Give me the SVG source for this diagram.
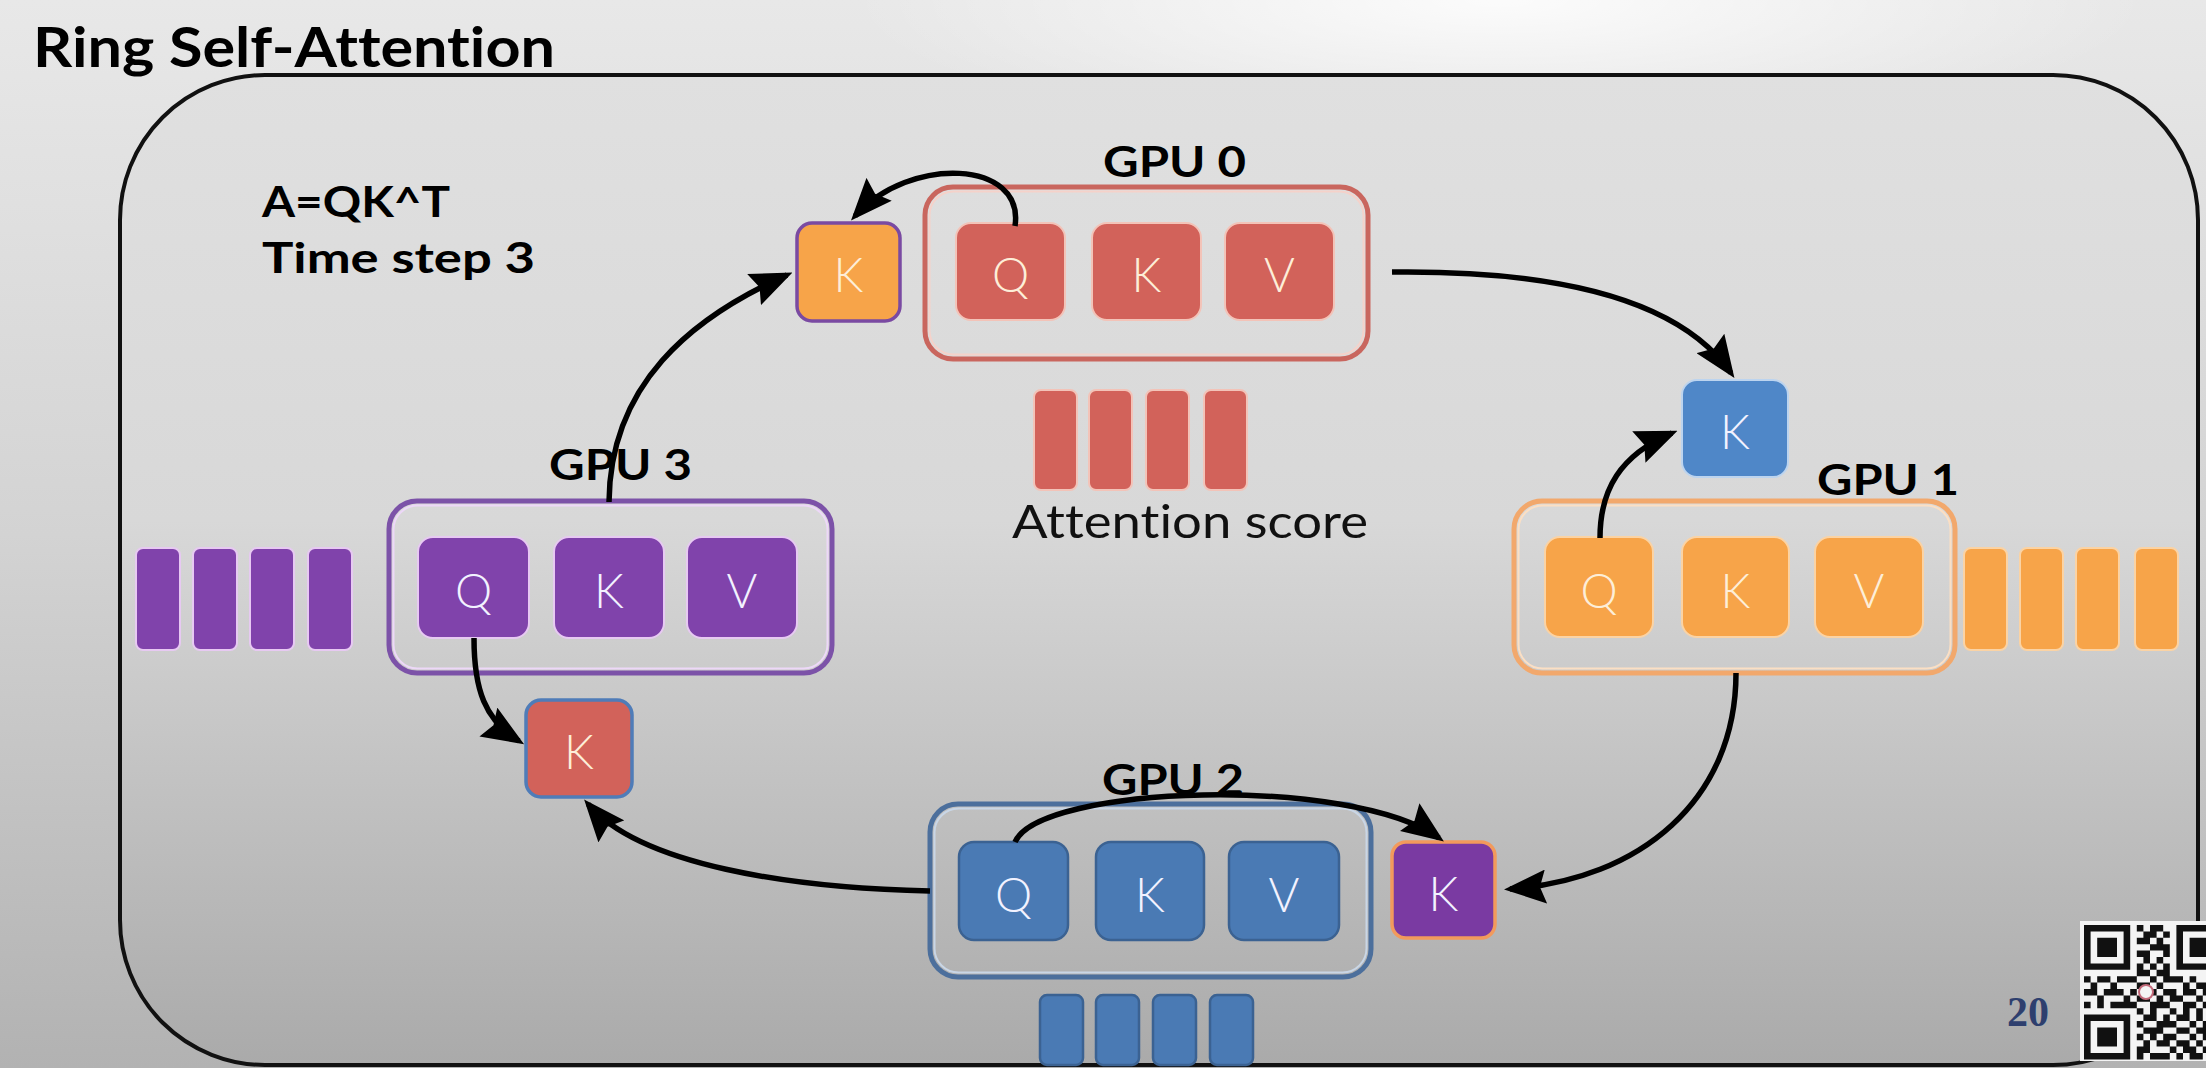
<svg xmlns="http://www.w3.org/2000/svg" width="2206" height="1068" viewBox="0 0 2206 1068">
<defs>
  <linearGradient id="bg" x1="0" y1="0" x2="0" y2="1">
    <stop offset="0" stop-color="#e8e8e8"/>
    <stop offset="0.5" stop-color="#d3d3d3"/>
    <stop offset="1" stop-color="#b2b2b2"/>
  </linearGradient>
  <radialGradient id="glow" cx="0.5" cy="0.5" r="0.5">
    <stop offset="0" stop-color="#ffffff" stop-opacity="0.85"/>
    <stop offset="1" stop-color="#ffffff" stop-opacity="0"/>
  </radialGradient>
  <linearGradient id="panel" x1="0" y1="0" x2="0" y2="1">
    <stop offset="0" stop-color="#e0e0e0"/>
    <stop offset="0.45" stop-color="#d8d8d8"/>
    <stop offset="1" stop-color="#aaaaaa"/>
  </linearGradient>
  <marker id="arr" viewBox="0 0 42 34" refX="36" refY="17" markerWidth="42" markerHeight="34" markerUnits="userSpaceOnUse" orient="auto">
    <path d="M0,0 L42,17 L0,34 L6,17 z" fill="#000"/>
  </marker>
</defs>
<style>
  text{font-variant-ligatures:none}
  .title{font-family:Lato,'Liberation Sans',sans-serif;font-weight:bold;font-size:56px;fill:#000}
  .note{font-family:Lato,'Liberation Sans',sans-serif;font-weight:bold;font-size:42px;fill:#000}
  .lbl{font-family:Lato,'Liberation Sans',sans-serif;font-weight:bold;font-size:42px;fill:#000}
  .ch{font-family:Lato,'Liberation Sans',sans-serif;font-weight:300;font-size:47px;text-anchor:middle}
  .att{font-family:Lato,'Liberation Sans',sans-serif;font-weight:normal;font-size:46px;fill:#111}
  .conn{fill:none;stroke:#000;stroke-width:5.5;marker-end:url(#arr)}
  .red{fill:#d2625a;stroke:#f3c3b8;stroke-width:2}
  .org{fill:#f7a449;stroke:#fbd3a4;stroke-width:2}
  .pur{fill:#8043ab;stroke:#e7c9f2;stroke-width:2}
  .blu{fill:#4a7ab4;stroke:#3b6292;stroke-width:2.5}
  .tr{fill:#fdeed8}
  .tb{fill:#f2f2ff}
  .cont{fill:none;stroke-width:5}
  .inner{fill:none;stroke-width:2}
</style>

<rect x="0" y="0" width="2206" height="1068" fill="url(#bg)"/>
<ellipse cx="1500" cy="0" rx="650" ry="140" fill="url(#glow)"/>

<rect id="frame" x="120" y="75" width="2078" height="990" rx="145" ry="145" fill="url(#panel)" stroke="#111" stroke-width="4"/>

<text class="title" x="33" y="67" textLength="522" lengthAdjust="spacingAndGlyphs">Ring Self-Attention</text>
<text class="note" x="262" y="217" textLength="188" lengthAdjust="spacingAndGlyphs">A=QK^T</text>
<text class="note" x="262" y="273" textLength="273" lengthAdjust="spacingAndGlyphs">Time step 3</text>

<!-- GPU 0 -->
<g id="gpu0">
  <text class="lbl" x="1103" y="177" textLength="143" lengthAdjust="spacingAndGlyphs">GPU 0</text>
  <rect class="cont" x="925" y="187" width="443" height="172" rx="28" stroke="#c9665e"/>
  <rect class="inner" x="929.5" y="191.5" width="434" height="163" rx="24" stroke="#f5d2ca"/>
  <rect class="red" x="956" y="223" width="109" height="97" rx="15"/>
  <text class="ch tr" x="1010.5" y="292">Q</text>
  <rect class="red" x="1092" y="223" width="109" height="97" rx="15"/>
  <text class="ch tr" x="1146.5" y="292">K</text>
  <rect class="red" x="1225" y="223" width="109" height="97" rx="15"/>
  <text class="ch tr" x="1279.5" y="292">V</text>
</g>
<g id="gpu0-scores">
  <rect class="red" x="1034" y="390" width="43" height="100" rx="7"/>
  <rect class="red" x="1089" y="390" width="43" height="100" rx="7"/>
  <rect class="red" x="1146" y="390" width="43" height="100" rx="7"/>
  <rect class="red" x="1204" y="390" width="43" height="100" rx="7"/>
  <text class="att" x="1012" y="538" textLength="356" lengthAdjust="spacingAndGlyphs">Attention score</text>
</g>
<g id="gpu0-recv">
  <rect x="797" y="223" width="103" height="98" rx="15" fill="#f7a449" stroke="#7a4aa2" stroke-width="3.5"/>
  <text class="ch tr" x="848.5" y="292">K</text>
</g>

<!-- GPU 1 -->
<g id="gpu1">
  <text class="lbl" x="1817" y="495" textLength="142" lengthAdjust="spacingAndGlyphs">GPU 1</text>
  <rect class="cont" x="1514" y="501" width="441" height="172" rx="28" stroke="#f2a86c"/>
  <rect class="inner" x="1518.5" y="505.5" width="432" height="163" rx="24" stroke="#fbdfc4"/>
  <rect class="org" x="1545" y="537" width="108" height="100" rx="15"/>
  <text class="ch tr" x="1599" y="608">Q</text>
  <rect class="org" x="1682" y="537" width="107" height="100" rx="15"/>
  <text class="ch tr" x="1735.5" y="608">K</text>
  <rect class="org" x="1815" y="537" width="108" height="100" rx="15"/>
  <text class="ch tr" x="1869" y="608">V</text>
</g>
<g id="gpu1-scores">
  <rect class="org" x="1964" y="548" width="43" height="102" rx="7"/>
  <rect class="org" x="2020" y="548" width="43" height="102" rx="7"/>
  <rect class="org" x="2076" y="548" width="43" height="102" rx="7"/>
  <rect class="org" x="2135" y="548" width="43" height="102" rx="7"/>
</g>
<g id="gpu1-recv">
  <rect x="1682" y="380" width="106" height="97" rx="15" fill="#4f87c8" stroke="#bcd4ef" stroke-width="2"/>
  <text class="ch tb" x="1735" y="449">K</text>
</g>

<!-- GPU 2 -->
<g id="gpu2">
  <text class="lbl" x="1102" y="795" textLength="142" lengthAdjust="spacingAndGlyphs">GPU 2</text>
  <rect class="cont" x="930" y="804" width="441" height="173" rx="28" stroke="#4c6f9c"/>
  <rect class="inner" x="934.5" y="808.5" width="432" height="164" rx="24" stroke="#c9d6e6"/>
  <rect class="blu" x="959" y="842" width="109" height="98" rx="15"/>
  <text class="ch tb" x="1013.5" y="912">Q</text>
  <rect class="blu" x="1096" y="842" width="108" height="98" rx="15"/>
  <text class="ch tb" x="1150" y="912">K</text>
  <rect class="blu" x="1229" y="842" width="110" height="98" rx="15"/>
  <text class="ch tb" x="1284" y="912">V</text>
</g>
<g id="gpu2-scores">
  <rect class="blu" x="1040" y="995" width="43" height="70" rx="7"/>
  <rect class="blu" x="1096" y="995" width="43" height="70" rx="7"/>
  <rect class="blu" x="1153" y="995" width="43" height="70" rx="7"/>
  <rect class="blu" x="1210" y="995" width="43" height="70" rx="7"/>
</g>
<g id="gpu2-recv">
  <rect x="1392" y="842" width="103" height="96" rx="14" fill="#7a3aa2" stroke="#f29a5c" stroke-width="3.5"/>
  <text class="ch tb" x="1443.5" y="911">K</text>
</g>

<!-- GPU 3 -->
<g id="gpu3">
  <text class="lbl" x="549" y="480" textLength="143" lengthAdjust="spacingAndGlyphs">GPU 3</text>
  <rect class="cont" x="389" y="501" width="443" height="172" rx="28" stroke="#7c52a8"/>
  <rect class="inner" x="393.5" y="505.5" width="434" height="163" rx="24" stroke="#edd8f8"/>
  <rect class="pur" x="418" y="537" width="111" height="101" rx="15"/>
  <text class="ch tb" x="473.5" y="608">Q</text>
  <rect class="pur" x="554" y="537" width="110" height="101" rx="15"/>
  <text class="ch tb" x="609" y="608">K</text>
  <rect class="pur" x="687" y="537" width="110" height="101" rx="15"/>
  <text class="ch tb" x="742" y="608">V</text>
</g>
<g id="gpu3-scores">
  <rect class="pur" x="136" y="548" width="44" height="102" rx="7"/>
  <rect class="pur" x="193" y="548" width="44" height="102" rx="7"/>
  <rect class="pur" x="250" y="548" width="44" height="102" rx="7"/>
  <rect class="pur" x="308" y="548" width="44" height="102" rx="7"/>
</g>
<g id="gpu3-recv">
  <rect x="526" y="700" width="106" height="97" rx="15" fill="#d2625a" stroke="#4f7cb8" stroke-width="3.5"/>
  <text class="ch tr" x="579" y="769">K</text>
</g>

<!-- connectors -->
<g id="connectors">
  <path class="conn" d="M1392,272 C1560,270 1680,300 1731,373"/>
  <path class="conn" d="M1600,538 C1600,490 1620,455 1672,433"/>
  <path class="conn" d="M1736,673 C1736,800 1640,880 1510,889"/>
  <path class="conn" d="M1015,842 C1040,785 1350,775 1439,838"/>
  <path class="conn" d="M930,891 C790,888 640,865 588,804"/>
  <path class="conn" d="M474,638 C474,690 485,720 519,741"/>
  <path class="conn" d="M609,502 C610,385 690,318 787,275"/>
  <path class="conn" d="M1015,226 C1025,160 910,155 855,216"/>
</g>

<!-- page number and QR -->
<text x="2007" y="1026" font-family="'Liberation Serif',serif" font-weight="bold" font-size="42" fill="#2e3f6e">20</text>
<g id="qr">
  <rect x="2080" y="921" width="126" height="140" fill="#f4f4f4"/>
  <g transform="translate(2084,925) scale(6.6,6.4)" fill="#111">
    <path fill-rule="evenodd" d="M0,0h7v7h-7z M1,1v5h5v-5z M14,0h7v7h-7z M15,1v5h5v-5z M0,14h7v7h-7z M1,15v5h5v-5z"/>
    <path d="M2,2h3v3h-3z M16,2h3v3h-3z M2,16h3v3h-3z"/>
    <path d="M8,0h1v1h-1z M10,0h2v1h-2z M9,1h2v1h-2z M12,1h1v1h-1z M8,2h2v1h-2z M11,2h1v1h-1z M10,3h3v1h-3z M8,4h2v1h-2z M12,4h1v1h-1z M9,5h1v1h-1z M11,5h1v1h-1z M8,6h1v1h-1z M10,6h1v1h-1z M12,6h1v1h-1z M8,7h2v1h-2z M11,7h2v1h-2z
      M0,8h1v1h-1z M2,8h2v1h-2z M5,8h3v1h-3z M10,8h1v1h-1z M12,8h3v1h-3z M16,8h1v1h-1z M19,8h2v1h-2z
      M1,9h1v1h-1z M4,9h1v1h-1z M8,9h2v1h-2z M11,9h1v1h-1z M15,9h1v1h-1z M17,9h2v1h-2z
      M0,10h2v1h-2z M3,10h3v1h-3z M7,10h1v1h-1z M10,10h1v1h-1z M12,10h2v1h-2z M15,10h2v1h-2z M18,10h1v1h-1z M20,10h1v1h-1z
      M2,11h1v1h-1z M6,11h1v1h-1z M8,11h2v1h-2z M11,11h1v1h-1z M13,11h2v1h-2z M17,11h1v1h-1z M19,11h1v1h-1z
      M0,12h1v1h-1z M2,12h1v1h-1z M4,12h4v1h-4z M10,12h3v1h-3z M15,12h2v1h-2z M18,12h3v1h-3z
      M8,13h1v1h-1z M10,13h1v1h-1z M13,13h1v1h-1z M15,13h1v1h-1z M17,13h1v1h-1z
      M9,14h2v1h-2z M12,14h1v1h-1z M14,14h2v1h-2z M17,14h1v1h-1z M19,14h2v1h-2z
      M8,15h1v1h-1z M11,15h3v1h-3z M16,15h1v1h-1z M18,15h1v1h-1z
      M9,16h3v1h-3z M14,16h2v1h-2z M17,16h2v1h-2z M20,16h1v1h-1z
      M8,17h1v1h-1z M10,17h1v1h-1z M12,17h2v1h-2z M16,17h1v1h-1z M18,17h2v1h-2z
      M9,18h1v1h-1z M11,18h2v1h-2z M14,18h2v1h-2z M17,18h1v1h-1z M20,18h1v1h-1z
      M8,19h2v1h-2z M13,19h1v1h-1z M15,19h2v1h-2z M18,19h2v1h-2z
      M8,20h1v1h-1z M10,20h3v1h-3z M14,20h1v1h-1z M16,20h2v1h-2z M19,20h2v1h-2z"/>
  </g>
  <circle cx="2146" cy="992" r="7" fill="#f4f4f4" stroke="#c26a7a" stroke-width="2"/>
</g>
</svg>
